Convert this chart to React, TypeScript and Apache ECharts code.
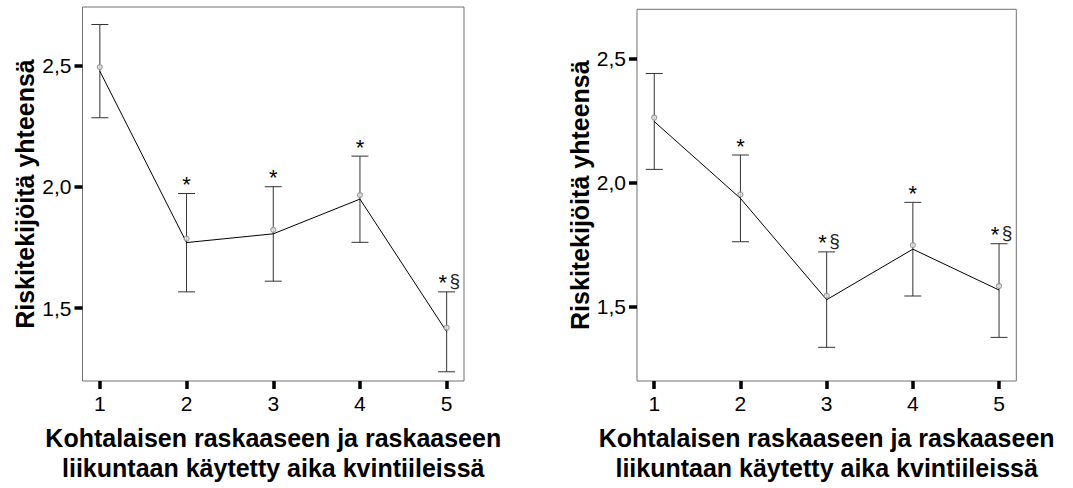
import React, { useEffect, useRef } from "react";
import * as echarts from "echarts";

const categories = [1, 2, 3, 4, 5];
const yTicks = [1.5, 2.0, 2.5];

const leftMean = [2.476, 1.77, 1.806, 1.949, 1.403];
const leftLow = [2.284, 1.567, 1.611, 1.771, 1.238];
const leftHigh = [2.668, 1.972, 2.0, 2.126, 1.567];
const leftMarks = ["", "*", "*", "*", "*§"];

const rightMean = [2.247, 1.937, 1.528, 1.732, 1.567];
const rightLow = [2.054, 1.762, 1.336, 1.543, 1.376];
const rightHigh = [2.441, 2.112, 1.721, 1.921, 1.754];
const rightMarks = ["", "*", "*§", "*", "*§"];

const yTitle = "Riskitekijöitä yhteensä";
const xTitle = "Kohtalaisen raskaaseen ja raskaaseen\nliikuntaan käytetty aika kvintiileissä";

const FONT = "'Liberation Sans', Arial, Helvetica, sans-serif";

function makeErrorRender(marks: string[]) {
  return (params: any, api: any) => {
    const x = api.value(0);
    const lo = api.value(1);
    const hi = api.value(2);
    const pLo = api.coord([x, lo]);
    const pHi = api.coord([x, hi]);
    const hw = 8.5;
    const style = { stroke: "#333", lineWidth: 1 };
    const children: any[] = [
      { type: "line", shape: { x1: pLo[0], y1: pLo[1], x2: pHi[0], y2: pHi[1] }, style },
      { type: "line", shape: { x1: pHi[0] - hw, y1: pHi[1], x2: pHi[0] + hw, y2: pHi[1] }, style },
      { type: "line", shape: { x1: pLo[0] - hw, y1: pLo[1], x2: pLo[0] + hw, y2: pLo[1] }, style },
    ];
    const m = marks[params.dataIndex];
    if (m) {
      const hasS = m.indexOf("§") >= 0;
      children.push({
        type: "text",
        x: hasS ? pHi[0] - 4 : pHi[0],
        y: pHi[1] - 9,
        style: { text: "*", fill: "#000", font: `22px ${FONT}`, align: "center", verticalAlign: "middle" },
      });
      if (hasS) {
        children.push({
          type: "text",
          x: pHi[0] + 8,
          y: pHi[1] - 11,
          style: { text: "§", fill: "#222", font: `19px ${FONT}`, align: "center", verticalAlign: "middle" },
        });
      }
    }
    return { type: "group", children };
  };
}

function fmtY(v: number) {
  return v.toFixed(1).replace(".", ",");
}

export default function App() {
  const ref = useRef<HTMLDivElement>(null);
  useEffect(() => {
    if (!ref.current) return;
    const chart = echarts.init(ref.current, null, { renderer: "svg" });

    const grids = [
      { left: 82.5, top: 7, width: 381.5, height: 382 },
      { left: 637, top: 9.3, width: 379.3, height: 380.2 },
    ];
    const yRanges = [
      [1.2, 2.74],
      [1.2, 2.7],
    ];
    const nameGaps = [45, 41];

    const xAxes = grids.map((_, i) => ({
      type: "value",
      gridIndex: i,
      min: 0.8,
      max: 5.2,
      axisLine: { show: false },
      splitLine: { show: false },
      axisTick: { show: true, length: 8, lineStyle: { color: "#000", width: 3.5 }, customValues: categories },
      axisLabel: {
        customValues: categories,
        color: "#000",
        fontSize: 21,
        fontFamily: FONT,
        margin: 12,
        formatter: (v: number) => String(v),
      },
      name: xTitle,
      nameLocation: "middle",
      nameGap: 42,
      nameTextStyle: { fontSize: 25, fontWeight: "bold", fontFamily: FONT, color: "#000", lineHeight: 30 },
    }));

    const yAxes = grids.map((_, i) => ({
      type: "value",
      gridIndex: i,
      min: yRanges[i][0],
      max: yRanges[i][1],
      axisLine: { show: false },
      splitLine: { show: false },
      axisTick: { show: true, length: 8, lineStyle: { color: "#000", width: 3.5 }, customValues: yTicks },
      axisLabel: {
        customValues: yTicks,
        color: "#000",
        fontSize: 21,
        fontFamily: FONT,
        margin: 11,
        formatter: (v: number) => fmtY(v),
      },
      name: yTitle,
      nameLocation: "middle",
      nameGap: nameGaps[i],
      nameTextStyle: { fontSize: 25, fontWeight: "bold", fontFamily: FONT, color: "#000" },
    }));

    const sets = [
      { mean: leftMean, low: leftLow, high: leftHigh, marks: leftMarks },
      { mean: rightMean, low: rightLow, high: rightHigh, marks: rightMarks },
    ];

    const series: any[] = [];
    sets.forEach((s, i) => {
      series.push({
        type: "custom",
        xAxisIndex: i,
        yAxisIndex: i,
        renderItem: makeErrorRender(s.marks),
        data: categories.map((c, j) => [c, s.low[j], s.high[j]]),
        silent: true,
        z: 2,
      });
      series.push({
        type: "line",
        xAxisIndex: i,
        yAxisIndex: i,
        data: categories.map((c, j) => [c, s.mean[j]]),
        symbol: "none",
        lineStyle: { color: "#000", width: 1 },
        silent: true,
        z: 3,
      });
      series.push({
        type: "scatter",
        xAxisIndex: i,
        yAxisIndex: i,
        data: categories.map((c, j) => [c, s.mean[j]]),
        symbol: "circle",
        symbolSize: 5,
        symbolOffset: [0, -4],
        itemStyle: { color: "#e8e8e8", borderColor: "#8a8a8a", borderWidth: 1.2 },
        silent: true,
        z: 4,
      });
    });

    chart.setOption({
      animation: false,
      backgroundColor: "#fff",
      grid: grids.map((g) => ({ ...g, show: true, borderColor: "#707070", borderWidth: 1, backgroundColor: "transparent" })),
      xAxis: xAxes,
      yAxis: yAxes,
      series,
    });
    return () => chart.dispose();
  }, []);
  return (
    <div
      ref={ref}
      style={{ position: "fixed", left: 0, top: 0, width: 1073, height: 488, background: "#fff" }}
    />
  );
}
